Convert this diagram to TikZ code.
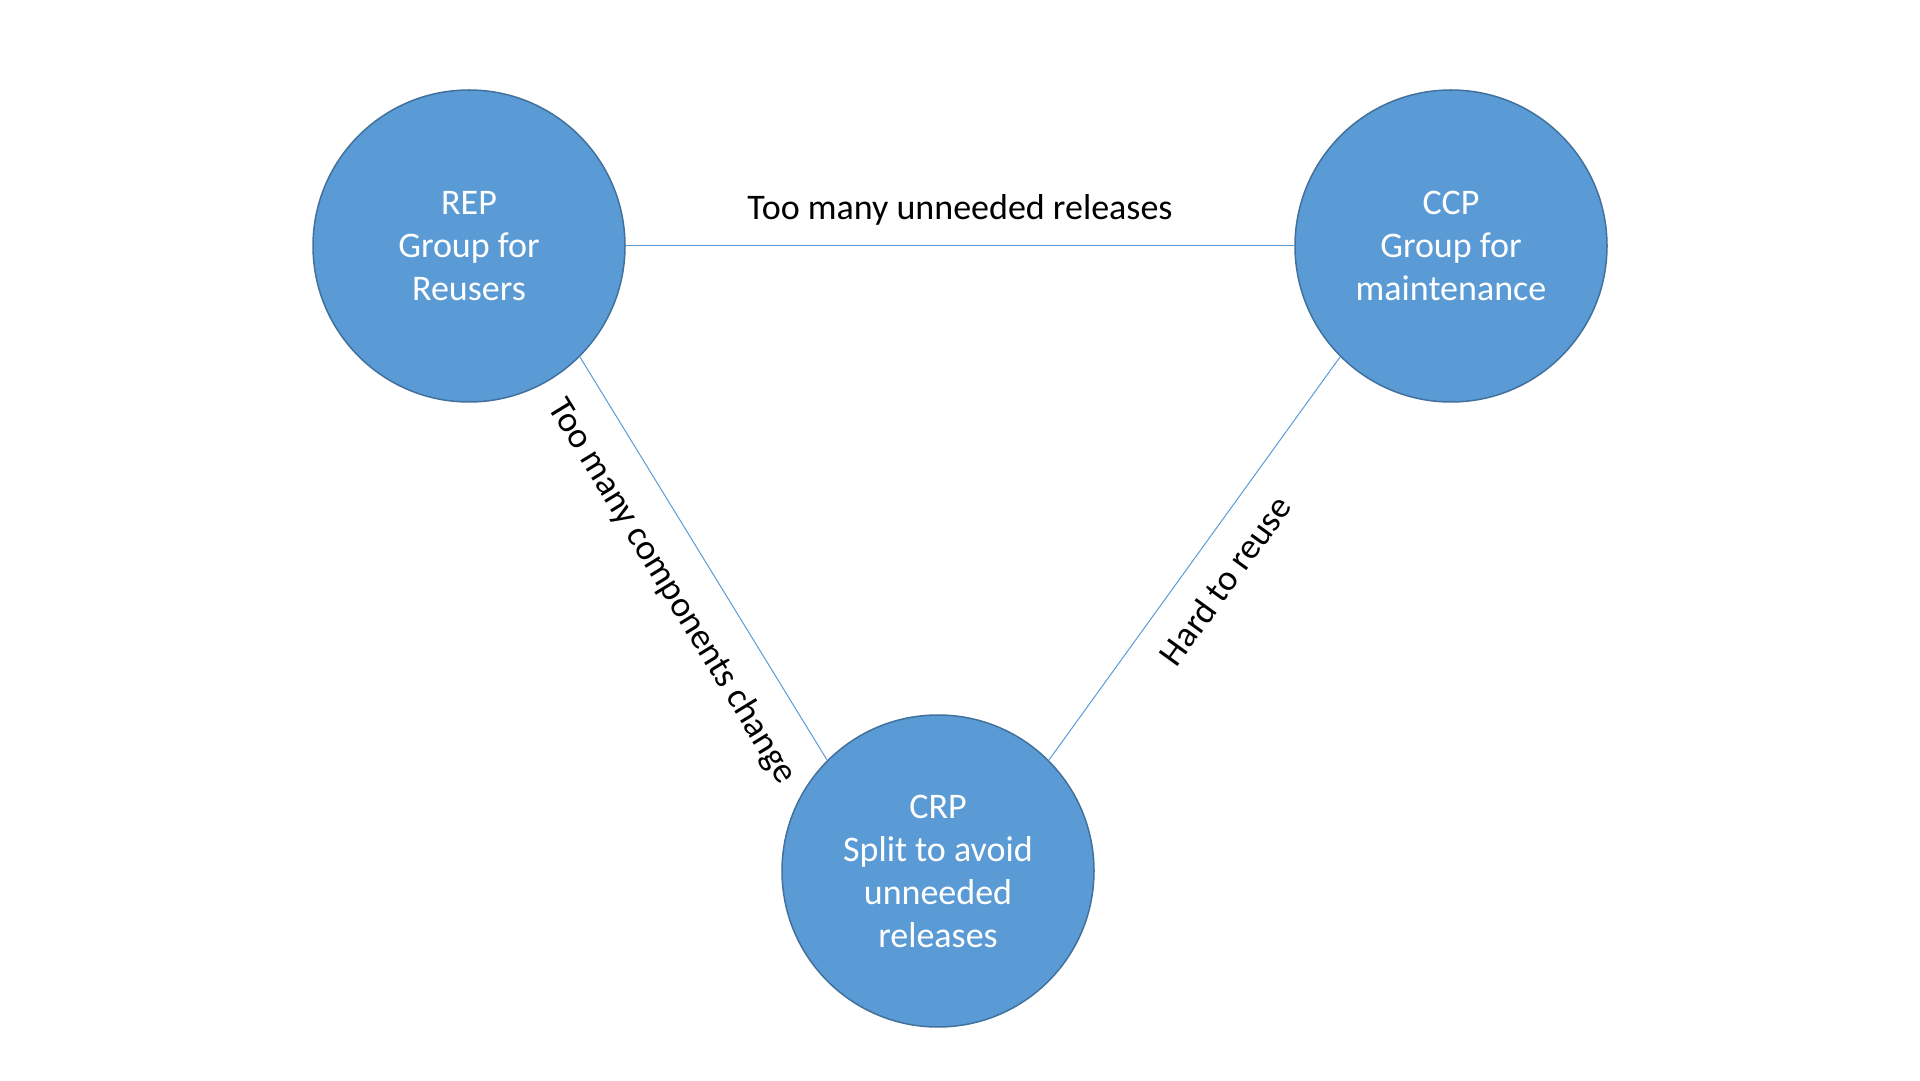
\documentclass[tikz,border=0pt]{standalone}
\usepackage{fontspec}
\setmainfont{Carlito}
\definecolor{circfill}{HTML}{5B9BD5}
\definecolor{circdraw}{HTML}{41719C}
\definecolor{edgecol}{HTML}{5B9BD5}
\begin{document}
\begin{tikzpicture}[x=1pt,y=1pt,
  principle/.style={circle, minimum size=312pt, inner sep=0pt, fill=circfill, draw=circdraw, line width=1.5pt,
    text=white, align=center, font=\fontsize{36}{43}\selectfont},
  relation/.style={draw=edgecol, line width=1pt},
  lbl/.style={font=\fontsize{36}{43}\selectfont, text=black}]
\useasboundingbox (0,0) rectangle (1920,1080);
\node[principle] (REP) at (469,834) {REP\\Group for\\Reusers};
\node[principle] (CCP) at (1451,834) {CCP\\Group for\\maintenance};
\node[principle] (CRP) at (938,209) {CRP\\Split to avoid\\unneeded\\releases};
\draw[relation] (REP.east) -- node[lbl, midway, above=17pt] {Too many unneeded releases} (CCP.west);
\draw[relation] (REP.-45) -- node[lbl, pos=0.525, sloped, below=25pt] {Too many components change} (CRP.135);
\draw[relation] (CRP.45) -- node[lbl, midway, sloped, below=21pt] {Hard to reuse} (CCP.-135);
\end{tikzpicture}
\end{document}
